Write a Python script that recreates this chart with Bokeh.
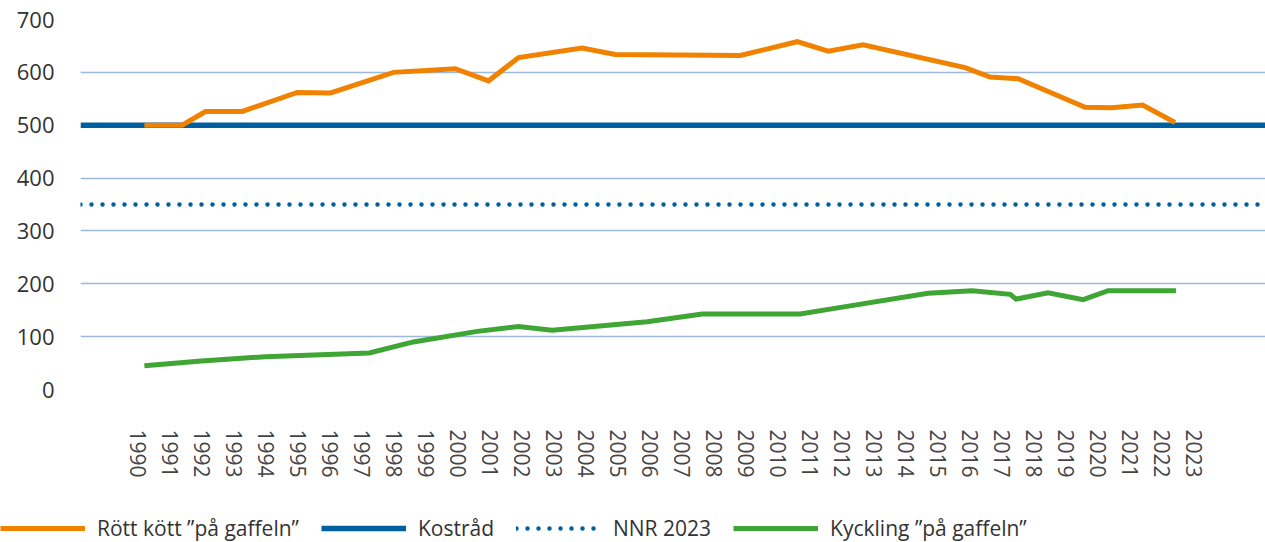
import math
from bokeh.plotting import figure
from bokeh.models import Range1d, FixedTicker, Legend, LegendItem
from bokeh.layouts import column, row
from bokeh.embed import file_html
from bokeh.resources import INLINE

# ---- data ----
tick_years = list(range(1990, 2024))
tick_labels = {y: str(y) for y in tick_years}

red_meat_x = [1990.20, 1991.38, 1992.11, 1993.26, 1994.98, 1996.02, 1997.99, 1999.92,
              2000.96, 2001.90, 2003.88, 2004.92, 2008.83, 2010.61, 2011.58, 2012.67,
              2015.86, 2016.64, 2017.52, 2019.61, 2020.44, 2021.41, 2022.42]
red_meat_y = [500, 500, 526, 526, 562, 561, 600, 607,
              584, 628, 646, 634, 632, 658, 640, 652,
              609, 591, 588, 534, 533, 538, 505]

chicken_x = [1990.20, 1991.98, 1993.98, 1997.23, 1998.61, 2000.61, 2001.89, 2002.95,
             2005.92, 2007.64, 2010.70, 2011.73, 2014.70, 2016.08, 2017.27, 2017.45,
             2018.45, 2019.55, 2020.33, 2022.45]
chicken_y = [45, 54, 62, 69, 90, 110, 119, 112,
             128, 143, 143, 153, 182, 187, 180, 171,
             183, 170, 187, 187]

kostrad_value = 500
nnr_value = 350

y_ticks = [0, 100, 200, 300, 400, 500, 600, 700]

names = ['Rött kött ”på gaffeln”', 'Kostråd', 'NNR 2023', 'Kyckling ”på gaffeln”']

# ---- styles ----
FONT = "Open Sans"
ORANGE = "#F08200"
BLUE = "#005F9E"
GREEN = "#3FA535"
style_red = dict(line_color=ORANGE, line_width=5, line_join="miter")
style_kost = dict(line_color=BLUE, line_width=5.5)
style_nnr = dict(line_color=BLUE, line_width=4.5, line_dash="0 11", line_cap="round")
style_chk = dict(line_color=GREEN, line_width=5, line_join="miter")

# ---- main figure ----
X0, X1 = 1988.203, 2025.25
p = figure(frame_width=1185, frame_height=370, output_backend="svg", toolbar_location=None,
           x_range=Range1d(X0, X1), y_range=Range1d(0, 700),
           min_border_left=80, min_border_right=0, min_border_top=19,
           min_border_bottom=116, outline_line_color=None)
p.background_fill_color = "white"
p.border_fill_color = "white"

p.xaxis.ticker = FixedTicker(ticks=tick_years)
p.xaxis.major_label_overrides = tick_labels
p.xaxis.major_label_orientation = -math.pi / 2
p.xaxis.axis_line_color = None
p.xaxis.major_tick_line_color = None
p.xaxis.minor_tick_line_color = None
p.xaxis.major_tick_out = 0
p.xaxis.major_tick_in = 0
p.xaxis.major_label_standoff = 40
p.xaxis.major_label_text_font = FONT
p.xaxis.major_label_text_font_size = "21px"
p.xaxis.major_label_text_color = "#444444"

p.yaxis.ticker = FixedTicker(ticks=y_ticks)
p.yaxis.axis_line_color = None
p.yaxis.major_tick_line_color = None
p.yaxis.minor_tick_line_color = None
p.yaxis.major_tick_out = 0
p.yaxis.major_tick_in = 0
p.yaxis.major_label_standoff = 26
p.yaxis.major_label_text_font = FONT
p.yaxis.major_label_text_font_size = "22px"
p.yaxis.major_label_text_color = "#333333"

p.xgrid.grid_line_color = None
p.ygrid.ticker = FixedTicker(ticks=y_ticks)
p.ygrid.grid_line_color = "#9DB9DE"
p.ygrid.grid_line_width = 1.5

p.line([X0, X1], [nnr_value, nnr_value], **style_nnr)
p.line([X0, X1], [kostrad_value, kostrad_value], **style_kost)
p.line(red_meat_x, red_meat_y, **style_red)
p.line(chicken_x, chicken_y, **style_chk)

# ---- legend strip (same styles, legend only; its renderers lie outside its range) ----
lg = figure(width=1265, height=37, output_backend="svg", toolbar_location=None,
            x_range=Range1d(0, 1), y_range=Range1d(0, 1),
            x_axis_location=None, y_axis_location=None,
            min_border=0, outline_line_color=None)
lg.grid.visible = False
lg.background_fill_color = "white"
lg.border_fill_color = "white"
off = [-5]
l_red = lg.line(off, off, **style_red)
l_kost = lg.line(off, off, **style_kost)
l_nnr = lg.line(off, off, **style_nnr)
l_chk = lg.line(off, off, **style_chk)

legend = Legend(items=[LegendItem(label=names[0], renderers=[l_red]),
                       LegendItem(label=names[1], renderers=[l_kost]),
                       LegendItem(label=names[2], renderers=[l_nnr]),
                       LegendItem(label=names[3], renderers=[l_chk])],
                orientation="horizontal")
legend.label_text_font = FONT
legend.label_text_font_size = "21px"
legend.label_text_color = "#333333"
legend.glyph_width = 85
legend.glyph_height = 20
legend.label_standoff = 12
legend.spacing = 22
legend.padding = 0
legend.margin = 0
legend.border_line_color = None
legend.background_fill_alpha = 0
legend.location = (0, 0)
lg.add_layout(legend, "center")

layout = column(p, row(lg), spacing=0)
open("out.html", "w").write(file_html(layout, INLINE))
